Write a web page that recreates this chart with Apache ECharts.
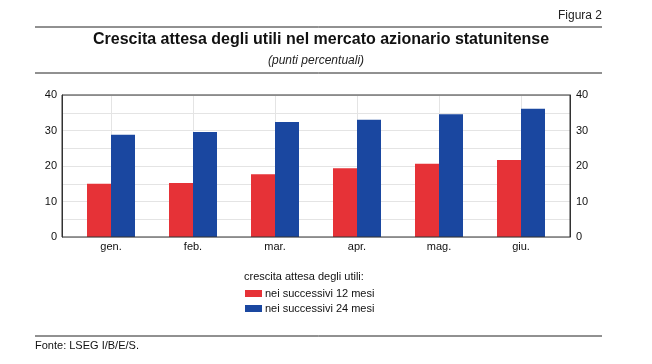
<!DOCTYPE html>
<html>
<head>
<meta charset="utf-8">
<script src="https://cdn.jsdelivr.net/npm/echarts@6/dist/echarts.min.js"></script>
<style>
  html, body { margin: 0; padding: 0; background: #fff; }
  #main { width: 652px; height: 364px; }
</style>
</head>
<body>
<div id="main"></div>
<script>
// dati
var mesi = ['gen.', 'feb.', 'mar.', 'apr.', 'mag.', 'giu.']
var succ12 = [15.0, 15.2, 17.7, 19.4, 20.6, 21.7]
var succ24 = [28.8, 29.6, 32.4, 33.0, 34.6, 36.1]
var yTicks = [0, 10, 20, 30, 40]

var font = 'Liberation Sans, Arial, sans-serif'
var rosso = '#e63237'
var blu = '#1a47a0'

var chart = echarts.init(document.getElementById('main'))

var option = {
  animation: false,
  textStyle: { fontFamily: font },
  graphic: [
    { type: 'text', right: 50, top: 10, style: { text: 'Figura 2', font: '12px ' + font, fill: '#222' } },
    { type: 'line', shape: { x1: 35, y1: 27, x2: 602, y2: 27 }, style: { stroke: '#222', lineWidth: 1 } },
    { type: 'text', left: 93, top: 32, style: { text: 'Crescita attesa degli utili nel mercato azionario statunitense', font: 'bold 16px ' + font, fill: '#111' } },
    { type: 'text', left: 268, top: 55, style: { text: '(punti percentuali)', font: 'italic 12px ' + font, fill: '#222' } },
    { type: 'line', shape: { x1: 35, y1: 73, x2: 602, y2: 73 }, style: { stroke: '#222', lineWidth: 1 } },
    { type: 'text', left: 244, top: 271, style: { text: 'crescita attesa degli utili:', font: '11px ' + font, fill: '#111' } },
    { type: 'line', shape: { x1: 35, y1: 336, x2: 602, y2: 336 }, style: { stroke: '#222', lineWidth: 1 } },
    { type: 'text', left: 35, top: 340, style: { text: 'Fonte: LSEG I/B/E/S.', font: '11px ' + font, fill: '#111' } }
  ],
  legend: {
    orient: 'vertical',
    left: 240,
    top: 283,
    itemWidth: 17,
    itemHeight: 7,
    itemGap: 4,
    textStyle: { fontSize: 11, color: '#111', fontFamily: font, padding: [0, 0, 0, -2] },
    data: [
      { name: 'nei successivi 12 mesi', icon: 'rect' },
      { name: 'nei successivi 24 mesi', icon: 'rect' }
    ]
  },
  grid: [
    { left: 62, right: 82, top: 95, bottom: 127, show: true, borderColor: '#333', borderWidth: 1, z: 5 },
    { left: 70, right: 90, top: 95, bottom: 127 }
  ],
  xAxis: [
    {
      gridIndex: 0, type: 'value', min: 0, max: 1,
      axisLine: { show: false }, axisTick: { show: false }, axisLabel: { show: false }, splitLine: { show: false }
    },
    {
      gridIndex: 1, type: 'category', data: mesi,
      axisLine: { show: false },
      axisTick: { show: false },
      axisLabel: { color: '#111', fontSize: 11, margin: 4 },
      splitLine: { show: true, alignWithLabel: true, lineStyle: { color: '#e4e4e4', width: 1 } }
    }
  ],
  yAxis: [
    {
      gridIndex: 0, type: 'value', position: 'left', min: 0, max: 40, interval: 10,
      axisLine: { show: true, lineStyle: { color: '#333' } },
      axisTick: { show: false },
      axisLabel: { color: '#111', fontSize: 11, margin: 5, formatter: function (v) { return yTicks.indexOf(v) >= 0 ? v : '' } },
      splitLine: { show: true, lineStyle: { color: '#e4e4e4' } },
      minorTick: { show: false, splitNumber: 2 },
      minorSplitLine: { show: true, lineStyle: { color: '#e4e4e4' } }
    },
    {
      gridIndex: 0, type: 'value', position: 'right', min: 0, max: 40, interval: 10,
      axisLine: { show: true, lineStyle: { color: '#333' } },
      axisTick: { show: false },
      axisLabel: { color: '#111', fontSize: 11, margin: 6 },
      splitLine: { show: false }
    },
    {
      gridIndex: 1, type: 'value', min: 0, max: 40, show: false
    }
  ],
  series: [
    {
      name: 'nei successivi 12 mesi', type: 'bar', xAxisIndex: 1, yAxisIndex: 2,
      data: succ12, barWidth: 24, barGap: '0%', z: 3,
      itemStyle: { color: rosso }
    },
    {
      name: 'nei successivi 24 mesi', type: 'bar', xAxisIndex: 1, yAxisIndex: 2,
      data: succ24, barWidth: 24, barGap: '0%', z: 3,
      itemStyle: { color: blu }
    }
  ]
}

chart.setOption(option)
</script>
</body>
</html>
